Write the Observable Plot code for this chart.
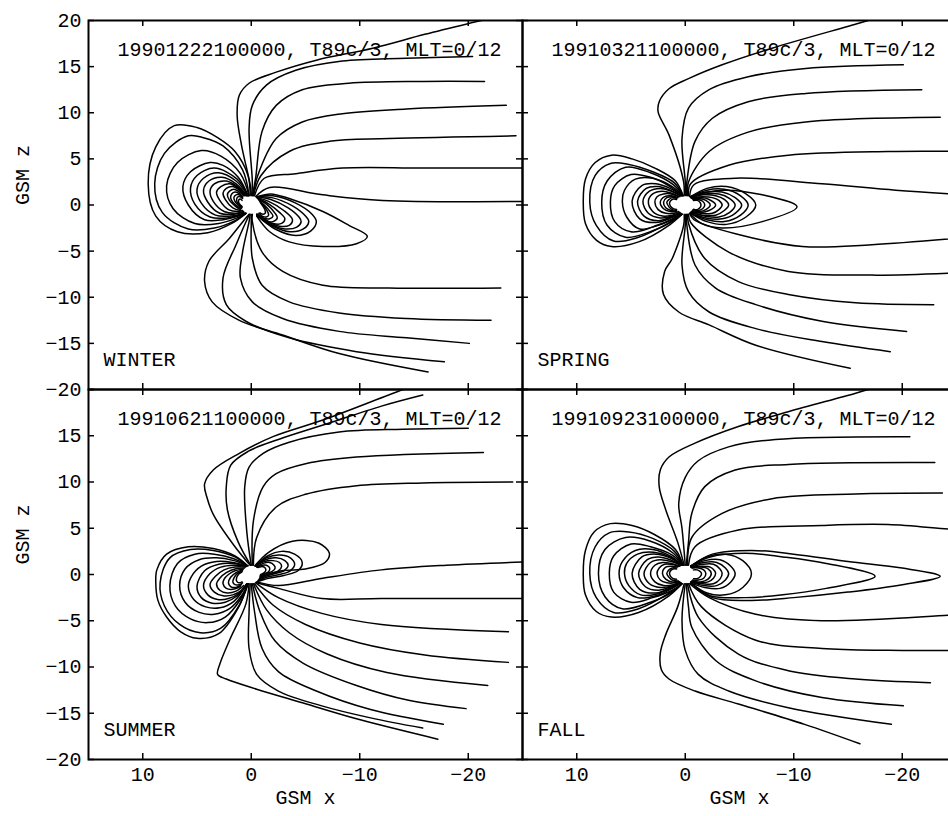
<!DOCTYPE html>
<html><head><meta charset="utf-8">
<script src="https://cdn.jsdelivr.net/npm/d3@7"></script>
<script src="https://cdn.jsdelivr.net/npm/@observablehq/plot@0.6"></script>
<style>
html,body{margin:0;padding:0;background:#fff;overflow:hidden;}
#wrap{position:relative;width:958px;height:816px;overflow:hidden;}
</style></head><body><div id="wrap"></div>
<script>
// ---------- axis / text data ----------
const xTicks = [10, 0, -10, -20];
const yTicks = [20, 15, 10, 5, 0, -5, -10, -15, -20];
const titles = ["19901222100000, T89c/3, MLT=0/12", "19910321100000, T89c/3, MLT=0/12",
                "19910621100000, T89c/3, MLT=0/12", "19910923100000, T89c/3, MLT=0/12"];
const seasons = ["WINTER", "SPRING", "SUMMER", "FALL"];

// ---------- field lines, GSM [x, z] in Earth radii ----------
// WINTER
const winterDay = [
 [[0.1,1.0],[0.3,3.2],[1.5,5.8],[3.1,7.3],[5.0,8.4],[7.1,8.6],[8.8,6.3],[9.5,2.3],[8.8,-1.2],[6.8,-2.9],[4.0,-3.0],[1.8,-2.0],[0.5,-0.9]],
 [[0.2,1.0],[0.8,3.8],[2.6,6.4],[4.4,7.3],[5.8,7.5],[8.0,5.6],[8.9,2.3],[8.2,-0.8],[5.8,-2.6],[3.4,-2.5],[1.5,-1.7],[0.5,-0.9]],
 [[0.2,1.0],[1.0,3.4],[2.8,5.3],[4.6,5.9],[6.8,4.6],[7.8,2.1],[7.2,-0.4],[5.2,-2.0],[3.0,-2.0],[1.3,-1.4],[0.5,-0.9]],
 [[0.3,1.0],[1.2,3.0],[2.6,4.3],[3.8,4.6],[5.6,3.6],[6.3,2.0],[5.8,0.0],[4.3,-1.6],[2.6,-1.6],[1.2,-1.2],[0.5,-0.9]],
 [[0.3,1.0],[1.3,2.8],[3.4,4.0],[5.0,3.2],[5.6,1.8],[5.2,0.1],[3.8,-1.3],[2.2,-1.4],[0.6,-0.9]],
 [[0.3,1.0],[1.4,2.6],[3.0,3.5],[4.4,2.9],[5.0,1.7],[4.6,0.2],[3.3,-1.1],[1.9,-1.2],[0.6,-0.9]],
 [[0.4,1.0],[1.4,2.3],[2.7,3.0],[3.9,2.6],[4.4,1.6],[4.0,0.3],[2.9,-0.9],[1.6,-1.0],[0.7,-0.8]],
 [[0.4,1.0],[1.4,2.1],[2.3,2.6],[3.4,2.3],[3.8,1.5],[3.5,0.4],[2.5,-0.7],[1.4,-0.9],[0.7,-0.7]],
 [[0.5,1.0],[1.3,1.9],[2.0,2.3],[2.8,2.0],[3.2,1.4],[2.9,0.5],[2.1,-0.5],[1.2,-0.7],[0.8,-0.6]],
 [[0.6,1.0],[1.2,1.7],[1.7,2.0],[2.3,1.8],[2.6,1.3],[2.4,0.6],[1.7,-0.3],[1.0,-0.6]],
 [[0.7,1.0],[1.2,1.5],[1.6,1.7],[2.0,1.5],[2.2,1.1],[2.0,0.5],[1.5,-0.1],[1.0,-0.5]],
 [[0.8,0.9],[1.2,1.3],[1.5,1.4],[1.8,1.2],[1.9,0.8],[1.7,0.3],[1.2,-0.2],[0.9,-0.4]],
 [[0.8,0.8],[1.1,1.1],[1.4,1.1],[1.6,0.8],[1.5,0.4],[1.2,0.0],[0.9,-0.3]],
 [[0.8,0.7],[1.0,0.9],[1.2,0.9],[1.35,0.6],[1.25,0.2],[1.0,-0.1],[0.85,-0.25]],
 [[0.85,0.5],[1.0,0.65],[1.15,0.55],[1.15,0.25],[1.0,0.0],[0.85,-0.15]]
];
const winterNight = [
 [[-0.6,0.9],[-1.8,1.2],[-3.5,0.7],[-6.6,-0.7],[-9.0,-2.2],[-10.7,-3.4],[-9.7,-4.2],[-6.6,-4.5],[-3.5,-4.0],[-1.7,-2.9],[-0.5,-1.2]],
 [[-0.5,0.9],[-2.0,1.0],[-4.1,0.2],[-5.6,-1.0],[-6.0,-1.8],[-5.5,-2.8],[-4.1,-3.3],[-2.2,-2.6],[-0.5,-1.1]],
 [[-0.5,0.9],[-1.9,0.8],[-3.8,-0.1],[-5.0,-1.2],[-5.3,-1.8],[-4.8,-2.6],[-3.6,-2.9],[-2.0,-2.3],[-0.5,-1.1]],
 [[-0.5,0.9],[-1.8,0.6],[-3.4,-0.3],[-4.4,-1.3],[-4.6,-1.8],[-4.2,-2.4],[-3.1,-2.6],[-1.8,-2.1],[-0.5,-1.1]],
 [[-0.5,0.8],[-1.6,0.4],[-3.0,-0.6],[-3.8,-1.6],[-3.5,-2.2],[-2.6,-2.3],[-1.5,-1.8],[-0.5,-1.0]],
 [[-0.5,0.8],[-1.5,0.2],[-2.6,-0.8],[-3.1,-1.5],[-2.8,-2.0],[-2.0,-2.0],[-1.2,-1.5],[-0.5,-1.0]],
 [[-0.5,0.7],[-1.4,0.1],[-2.2,-0.9],[-2.4,-1.4],[-2.0,-1.8],[-1.3,-1.7],[-0.6,-1.0]],
 [[-0.6,0.6],[-1.2,0.0],[-1.8,-0.8],[-2.0,-1.2],[-1.7,-1.5],[-1.1,-1.4],[-0.6,-1.0]],
 [[-0.7,0.5],[-1.1,0.0],[-1.5,-0.7],[-1.6,-1.1],[-1.4,-1.3],[-1.0,-1.2],[-0.7,-0.9]],
 [[-0.75,0.4],[-1.0,0.0],[-1.25,-0.5],[-1.3,-0.85],[-1.1,-1.0],[-0.8,-0.85]]
];
const winterNorth = [
 [[0.0,1.0],[0.1,2.2],[0.9,6.5],[1.3,9.7],[1.1,11.9],[0.2,13.2],[-2.3,14.4],[-6.0,15.7],[-11.2,17.0],[-16.0,18.5],[-20.5,19.8],[-23.0,20.5]],
 [[-0.05,1.0],[-0.1,2.5],[0.2,8.3],[-0.1,10.8],[-1.4,13.0],[-4.1,14.6],[-8.4,15.6],[-14.3,15.9],[-20.4,16.1]],
 [[-0.1,1.0],[-0.4,2.9],[-1.0,8.0],[-2.3,10.8],[-4.7,12.5],[-9.0,13.2],[-15.8,13.4],[-21.5,13.4]],
 [[-0.15,1.0],[-0.6,3.2],[-2.3,7.2],[-4.7,9.0],[-8.4,9.9],[-14.3,10.4],[-23.5,10.8]],
 [[-0.2,1.0],[-0.9,3.2],[-3.5,5.8],[-7.2,6.9],[-12.7,7.2],[-24.4,7.5]],
 [[-0.3,1.0],[-1.2,2.9],[-4.1,3.4],[-8.4,4.0],[-15.8,4.0],[-26.0,4.0]],
 [[-0.4,0.9],[-1.7,1.9],[-6.6,1.1],[-12.1,0.5],[-26.0,0.4]]
];
const winterSouth = [
 [[0.2,-1.0],[0.5,-1.4],[2.0,-3.6],[3.9,-6.1],[4.3,-8.3],[3.6,-10.5],[1.1,-12.5],[-2.9,-14.1],[-8.1,-16.1],[-16.3,-18.1]],
 [[0.15,-1.0],[0.4,-1.6],[1.4,-4.3],[2.6,-7.9],[2.3,-10.8],[0.5,-12.6],[-3.5,-14.4],[-9.7,-15.9],[-17.8,-17.0]],
 [[0.1,-1.0],[0.2,-1.8],[0.8,-5.1],[1.0,-7.9],[-0.1,-10.5],[-2.9,-12.3],[-8.1,-13.7],[-14.3,-14.4],[-20.1,-15.0]],
 [[0.0,-1.0],[0.0,-1.8],[-0.1,-5.8],[-1.0,-8.7],[-3.5,-10.5],[-8.1,-11.7],[-14.3,-12.3],[-22.1,-12.5]],
 [[-0.1,-1.0],[-0.1,-1.8],[-1.0,-5.1],[-2.9,-7.2],[-6.6,-8.7],[-12.7,-9.0],[-23.0,-9.0]]
];

// SPRING
const springDay = [
 [[0.2,1.0],[0.9,2.6],[2.8,4.0],[4.9,5.0],[6.8,5.4],[8.3,4.6],[9.2,2.8],[9.4,0.4],[9.2,-2.0],[8.2,-3.8],[6.8,-4.5],[4.3,-4.0],[1.5,-2.2],[0.3,-1.0]],
 [[0.2,1.0],[1.0,2.4],[3.0,3.6],[5.2,4.4],[6.9,4.5],[8.3,3.2],[8.8,0.3],[8.2,-2.2],[6.6,-3.9],[4.3,-3.5],[1.6,-2.0],[0.3,-1.0]],
 [[0.2,1.0],[1.1,2.2],[3.2,3.5],[5.5,4.1],[7.2,2.6],[7.7,0.3],[7.2,-2.2],[5.5,-3.5],[3.0,-2.8],[1.2,-1.8],[0.3,-1.0]],
 [[0.2,1.0],[1.2,2.0],[3.2,3.0],[5.0,3.3],[6.5,2.1],[6.9,0.3],[6.5,-1.8],[5.0,-2.9],[3.0,-2.4],[1.2,-1.6],[0.3,-1.0]],
 [[0.3,1.0],[1.4,2.0],[3.0,2.9],[4.6,2.8],[5.6,1.6],[5.8,0.4],[5.4,-1.3],[4.2,-2.6],[2.6,-2.2],[1.2,-1.5],[0.4,-0.9]],
 [[0.3,1.0],[1.4,1.8],[2.7,2.3],[4.0,2.1],[4.9,0.4],[4.2,-1.5],[2.7,-1.9],[1.3,-1.4],[0.4,-0.9]],
 [[0.4,1.0],[1.4,1.6],[2.5,2.0],[3.6,1.8],[4.4,0.4],[3.8,-1.2],[2.5,-1.7],[1.3,-1.3],[0.5,-0.9]],
 [[0.4,1.0],[1.3,1.5],[2.3,1.8],[3.3,1.5],[3.9,0.4],[3.4,-0.9],[2.3,-1.4],[1.2,-1.2],[0.5,-0.8]],
 [[0.5,0.9],[1.3,1.3],[2.1,1.5],[3.0,1.2],[3.4,0.4],[3.0,-0.7],[2.1,-1.2],[1.2,-1.1],[0.5,-0.8]],
 [[0.6,0.9],[1.3,1.2],[2.0,1.2],[2.6,0.9],[2.8,0.3],[2.5,-0.5],[1.8,-0.9],[1.0,-0.9],[0.6,-0.7]],
 [[0.7,0.8],[1.3,1.0],[1.9,0.9],[2.3,0.3],[2.0,-0.4],[1.4,-0.7],[0.8,-0.7]],
 [[0.7,0.8],[1.2,0.9],[1.7,0.8],[2.0,0.3],[1.8,-0.3],[1.3,-0.6],[0.8,-0.7]],
 [[0.8,0.7],[1.2,0.8],[1.5,0.6],[1.7,0.3],[1.5,-0.2],[1.2,-0.5],[0.8,-0.6]],
 [[0.8,0.6],[1.1,0.65],[1.35,0.45],[1.45,0.2],[1.35,-0.15],[1.1,-0.4],[0.8,-0.5]]
];
const springNight = [
 [[-0.5,0.9],[-3.4,1.6],[-7.1,1.1],[-10.3,-0.2],[-7.1,-1.8],[-3.4,-2.5],[-1.5,-2.0],[-0.4,-0.9]],
 [[-0.5,0.9],[-2.0,1.8],[-3.8,2.0],[-5.6,1.2],[-6.5,0.0],[-5.6,-1.3],[-3.8,-2.1],[-2.0,-1.8],[-0.5,-0.9]],
 [[-0.5,0.9],[-2.0,1.6],[-3.6,1.7],[-5.1,1.0],[-5.8,0.0],[-5.1,-1.1],[-3.6,-1.8],[-2.0,-1.6],[-0.5,-0.9]],
 [[-0.5,0.9],[-1.9,1.4],[-3.4,1.4],[-4.6,0.8],[-5.2,0.0],[-4.6,-0.9],[-3.4,-1.5],[-1.9,-1.4],[-0.5,-0.9]],
 [[-0.5,0.9],[-1.8,1.2],[-3.1,1.2],[-4.1,0.7],[-4.6,0.0],[-4.1,-0.8],[-3.1,-1.3],[-1.8,-1.2],[-0.5,-0.8]],
 [[-0.5,0.8],[-1.7,1.1],[-2.8,1.0],[-3.6,0.6],[-4.0,0.0],[-3.6,-0.6],[-2.8,-1.1],[-1.7,-1.1],[-0.5,-0.8]],
 [[-0.5,0.8],[-1.6,0.9],[-2.5,0.8],[-3.1,0.5],[-3.4,0.0],[-3.1,-0.5],[-2.5,-0.9],[-1.6,-0.9],[-0.5,-0.7]],
 [[-0.5,0.7],[-1.4,0.8],[-2.2,0.6],[-2.8,0.0],[-2.2,-0.6],[-1.4,-0.8],[-0.5,-0.7]],
 [[-0.6,0.7],[-1.3,0.7],[-1.9,0.5],[-2.3,0.0],[-1.9,-0.5],[-1.3,-0.7],[-0.6,-0.6]],
 [[-0.7,0.6],[-1.2,0.6],[-1.6,0.4],[-1.8,0.0],[-1.6,-0.4],[-1.2,-0.6],[-0.7,-0.5]],
 [[-0.75,0.5],[-1.1,0.5],[-1.35,0.3],[-1.45,0.0],[-1.35,-0.3],[-1.1,-0.5],[-0.75,-0.45]]
];
const springNorth = [
 [[0.1,1.0],[0.15,2.5],[1.5,7.6],[2.5,10.1],[2.4,11.2],[1.5,12.6],[-0.3,13.7],[-3.4,15.2],[-8.0,17.0],[-16.0,19.7],[-18.0,20.4]],
 [[0.0,1.0],[0.0,2.5],[0.3,7.2],[-0.3,10.5],[-2.2,12.5],[-5.8,13.9],[-11.1,14.8],[-20.1,15.2]],
 [[-0.1,1.0],[-0.15,2.5],[-0.9,6.9],[-2.5,9.4],[-5.8,11.2],[-11.1,12.1],[-21.8,12.5]],
 [[-0.2,1.0],[-0.3,2.5],[-2.2,5.8],[-5.8,7.9],[-11.1,9.0],[-23.5,9.5]],
 [[-0.3,1.0],[-0.5,2.3],[-4.0,4.3],[-9.5,5.4],[-18.7,5.8],[-26.0,5.8]],
 [[-0.4,0.9],[-0.8,2.2],[-4.6,2.9],[-12.6,2.3],[-19.4,1.6],[-26.0,1.1]]
];
const springSouth = [
 [[0.1,-1.0],[0.15,-2.2],[1.2,-5.8],[1.9,-7.2],[2.0,-9.7],[0.6,-11.6],[-2.2,-13.0],[-6.5,-15.2],[-15.2,-17.7]],
 [[0.0,-1.0],[0.0,-2.2],[0.3,-6.5],[-0.3,-9.4],[-2.2,-11.6],[-6.5,-13.4],[-12.6,-14.8],[-18.9,-15.9]],
 [[-0.1,-1.0],[-0.15,-2.2],[-0.9,-6.5],[-2.8,-9.0],[-6.5,-10.8],[-12.6,-12.6],[-20.4,-13.7]],
 [[-0.2,-1.0],[-0.3,-2.0],[-1.8,-5.8],[-4.9,-8.3],[-9.5,-9.7],[-15.7,-10.6],[-22.9,-10.8]],
 [[-0.3,-1.0],[-0.5,-1.9],[-4.0,-5.1],[-9.5,-7.2],[-17.2,-7.6],[-26.0,-7.3]],
 [[-0.4,-0.9],[-0.8,-1.6],[-4.9,-3.2],[-10.8,-4.5],[-17.2,-4.3],[-26.0,-3.5]]
];

// SUMMER
const summerDay = [
 [[0.3,0.9],[1.5,2.0],[3.5,2.8],[5.8,3.0],[7.8,2.2],[8.7,0.5],[8.8,-0.8],[8.6,-2.8],[7.8,-4.6],[6.5,-6.2],[5.0,-6.9],[3.0,-6.4],[1.2,-3.6],[0.3,-1.0]],
 [[0.3,0.9],[1.5,1.9],[3.5,2.6],[5.6,2.7],[7.5,1.8],[8.4,-0.9],[8.0,-3.4],[6.6,-5.4],[4.7,-6.3],[2.8,-5.8],[1.1,-3.3],[0.3,-1.0]],
 [[0.3,0.9],[1.6,1.7],[3.4,2.2],[5.2,2.2],[6.8,1.2],[7.5,-1.2],[7.0,-3.4],[5.6,-4.8],[4.0,-5.2],[2.4,-4.6],[1.0,-2.7],[0.3,-1.0]],
 [[0.3,0.9],[1.6,1.5],[3.2,1.8],[4.8,1.6],[6.1,0.6],[6.6,-1.2],[6.1,-3.0],[4.8,-4.1],[3.4,-4.3],[2.0,-3.7],[0.9,-2.3],[0.3,-1.0]],
 [[0.4,0.9],[1.7,1.3],[3.2,1.4],[4.6,0.9],[5.5,-0.2],[5.8,-1.3],[5.3,-2.7],[4.2,-3.5],[2.9,-3.6],[1.6,-2.9],[0.4,-1.0]],
 [[0.4,0.9],[1.7,1.2],[3.0,1.1],[4.3,0.4],[5.0,-1.3],[4.6,-2.5],[3.6,-3.1],[2.4,-3.0],[1.3,-2.3],[0.4,-1.0]],
 [[0.4,0.9],[1.6,1.0],[2.8,0.8],[3.8,0.1],[4.4,-1.2],[4.0,-2.2],[3.1,-2.7],[2.1,-2.6],[1.1,-2.0],[0.4,-1.0]],
 [[0.5,0.8],[1.5,0.8],[2.5,0.5],[3.3,-0.2],[3.8,-1.1],[3.4,-1.9],[2.6,-2.3],[1.7,-2.2],[0.9,-1.7],[0.4,-1.0]],
 [[0.6,0.7],[1.5,0.6],[2.3,0.2],[2.9,-0.4],[3.2,-1.0],[2.9,-1.7],[2.2,-2.0],[1.4,-1.8],[0.7,-1.2]],
 [[0.7,0.6],[1.5,0.4],[2.1,0.0],[2.5,-0.5],[2.6,-1.0],[2.3,-1.5],[1.7,-1.6],[1.0,-1.3]],
 [[0.8,0.5],[1.4,0.2],[1.9,-0.3],[2.1,-0.9],[1.9,-1.3],[1.4,-1.4],[0.9,-1.1]],
 [[0.8,0.4],[1.3,0.1],[1.6,-0.4],[1.7,-0.8],[1.5,-1.1],[1.1,-1.1],[0.8,-0.9]],
 [[0.85,0.3],[1.15,0.05],[1.35,-0.35],[1.35,-0.7],[1.15,-0.9],[0.85,-0.8]]
];
const summerNight = [
 [[-0.3,0.9],[-1.6,2.4],[-3.8,3.6],[-6.2,3.4],[-7.2,2.3],[-6.8,1.3],[-5.0,0.6],[-2.8,0.4],[-0.9,-0.3],[-0.4,-0.8]],
 [[-0.4,0.9],[-1.5,2.0],[-2.8,2.5],[-4.0,2.2],[-4.7,1.3],[-4.3,0.4],[-3.0,-0.1],[-1.6,-0.4],[-0.5,-0.8]],
 [[-0.4,0.9],[-1.4,1.8],[-2.6,2.1],[-3.6,1.8],[-4.0,1.1],[-3.6,0.4],[-2.6,0.0],[-1.4,-0.3],[-0.5,-0.8]],
 [[-0.4,0.9],[-1.3,1.6],[-2.3,1.8],[-3.1,1.5],[-3.4,1.0],[-3.0,0.4],[-2.2,0.1],[-1.3,-0.2],[-0.5,-0.8]],
 [[-0.4,0.9],[-1.2,1.4],[-2.0,1.5],[-2.6,1.3],[-2.8,0.9],[-2.5,0.4],[-1.8,0.1],[-1.1,-0.2],[-0.5,-0.7]],
 [[-0.5,0.8],[-1.1,1.2],[-1.7,1.3],[-2.1,1.0],[-2.2,0.7],[-1.9,0.3],[-1.3,0.1],[-0.7,-0.4]],
 [[-0.5,0.8],[-1.0,1.0],[-1.4,1.0],[-1.7,0.7],[-1.6,0.3],[-1.1,0.0],[-0.6,-0.3]],
 [[-0.6,0.75],[-0.9,0.85],[-1.2,0.8],[-1.35,0.5],[-1.2,0.2],[-0.9,0.0],[-0.6,-0.2]]
];
const summerNorth = [
 [[0.1,1.0],[1.5,3.0],[3.5,6.5],[4.1,8.4],[4.3,9.8],[3.5,11.3],[1.1,13.1],[-2.0,14.9],[-6.6,16.7],[-14.0,20.0],[-16.0,20.8]],
 [[0.05,1.0],[1.2,3.5],[2.2,7.0],[2.3,9.5],[1.9,11.8],[0.3,13.3],[-2.5,14.6],[-7.0,16.3],[-12.0,18.2],[-15.8,19.4]],
 [[0.0,1.0],[0.4,4.5],[0.6,9.5],[0.2,11.6],[-1.1,13.1],[-3.5,14.3],[-8.1,15.4],[-14.0,15.7],[-20.0,15.8]],
 [[-0.1,1.0],[-0.2,5.8],[-1.1,9.5],[-2.3,10.9],[-5.1,12.0],[-9.7,12.7],[-21.4,13.2]],
 [[-0.2,1.0],[-0.5,4.0],[-2.3,7.3],[-5.1,8.7],[-9.7,9.6],[-15.8,9.9],[-24.1,10.0]]
];
const summerSouth = [
 [[0.2,-1.0],[0.5,-3.2],[2.0,-7.1],[2.9,-9.7],[3.1,-10.8],[2.3,-11.3],[-0.5,-12.4],[-4.8,-13.9],[-9.7,-15.6],[-17.2,-17.8]],
 [[0.1,-1.0],[0.2,-4.0],[0.2,-8.0],[-0.5,-10.8],[-2.5,-12.6],[-6.5,-14.2],[-11.0,-15.5],[-15.8,-16.6]],
 [[0.0,-1.0],[-0.3,-4.0],[-1.0,-8.0],[-2.5,-10.5],[-6.0,-12.6],[-11.0,-14.6],[-17.7,-16.2]],
 [[-0.1,-1.0],[-0.8,-4.0],[-2.2,-7.2],[-4.8,-9.6],[-9.7,-12.0],[-14.5,-13.6],[-19.8,-14.5]],
 [[-0.2,-1.0],[-1.4,-3.8],[-3.5,-6.3],[-7.0,-8.6],[-12.5,-10.6],[-21.8,-12.0]],
 [[-0.3,-1.0],[-2.0,-3.3],[-5.0,-5.4],[-10.0,-7.4],[-16.0,-8.7],[-23.7,-9.5]],
 [[-0.4,-0.9],[-2.5,-2.5],[-6.5,-4.2],[-12.0,-5.4],[-23.7,-6.2]],
 [[-0.5,-0.9],[-2.5,-1.5],[-6.5,-2.6],[-12.0,-2.6],[-26.0,-2.6]],
 [[-0.5,-0.8],[-2.5,-1.2],[-6.6,-0.4],[-12.0,0.5],[-18.0,1.0],[-26.0,1.4]]
];

// FALL
const fallDay = [
 [[0.2,1.0],[0.9,2.7],[2.8,4.3],[4.9,5.3],[6.9,5.5],[8.4,4.6],[9.2,2.6],[9.4,0.1],[9.2,-2.2],[8.2,-4.0],[6.8,-4.6],[4.3,-4.1],[1.5,-2.3],[0.3,-1.0]],
 [[0.2,1.0],[1.0,2.5],[3.0,3.9],[5.2,4.6],[7.0,4.5],[8.3,3.0],[8.8,0.1],[8.2,-2.5],[6.6,-4.1],[4.3,-3.7],[1.6,-2.1],[0.3,-1.0]],
 [[0.2,1.0],[1.1,2.3],[3.2,3.6],[5.5,4.0],[7.4,2.7],[8.0,0.1],[7.4,-2.4],[5.8,-3.7],[3.2,-3.0],[1.2,-1.9],[0.3,-1.0]],
 [[0.2,1.0],[1.2,2.1],[3.2,3.0],[5.0,3.3],[6.6,2.0],[7.0,0.1],[6.6,-1.9],[5.0,-3.0],[3.0,-2.5],[1.2,-1.7],[0.3,-1.0]],
 [[0.3,1.0],[1.4,2.0],[3.0,2.7],[4.6,2.6],[5.8,1.4],[6.1,0.1],[5.7,-1.4],[4.4,-2.5],[2.7,-2.3],[1.2,-1.5],[0.4,-0.9]],
 [[0.3,1.0],[1.4,1.9],[2.9,2.4],[4.4,2.2],[5.4,1.2],[5.6,0.1],[5.2,-1.2],[4.1,-2.2],[2.6,-2.1],[1.2,-1.4],[0.4,-0.9]],
 [[0.3,1.0],[1.4,1.8],[2.7,2.2],[4.0,1.9],[4.9,0.1],[4.2,-1.6],[2.7,-2.0],[1.3,-1.4],[0.4,-0.9]],
 [[0.4,1.0],[1.4,1.6],[2.5,1.9],[3.5,1.6],[4.3,0.1],[3.7,-1.3],[2.5,-1.7],[1.3,-1.3],[0.5,-0.9]],
 [[0.4,1.0],[1.3,1.4],[2.3,1.6],[3.2,1.3],[3.8,0.1],[3.3,-1.0],[2.3,-1.4],[1.2,-1.2],[0.5,-0.8]],
 [[0.5,0.9],[1.3,1.2],[2.1,1.3],[2.8,1.0],[3.2,0.1],[2.8,-0.8],[2.0,-1.2],[1.1,-1.1],[0.5,-0.8]],
 [[0.6,0.9],[1.3,1.1],[1.9,1.1],[2.4,0.7],[2.6,0.1],[2.3,-0.6],[1.7,-0.9],[1.0,-0.9],[0.6,-0.7]],
 [[0.7,0.8],[1.2,0.9],[1.8,0.8],[2.1,0.1],[1.8,-0.5],[1.2,-0.8],[0.7,-0.7]],
 [[0.8,0.7],[1.2,0.7],[1.5,0.5],[1.7,0.1],[1.5,-0.3],[1.2,-0.6],[0.8,-0.6]],
 [[0.8,0.6],[1.1,0.6],[1.35,0.4],[1.45,0.1],[1.35,-0.2],[1.1,-0.45],[0.8,-0.5]]
];
const fallNight = [
 [[-0.5,0.9],[-2.5,2.2],[-6.1,2.6],[-10.0,2.2],[-15.0,1.4],[-20.0,0.7],[-23.5,-0.2],[-20.0,-1.1],[-15.0,-1.9],[-10.0,-2.5],[-6.1,-2.8],[-2.5,-2.5],[-0.5,-0.9]],
 [[-0.5,0.9],[-2.3,1.9],[-5.5,2.3],[-9.0,1.9],[-13.0,1.2],[-17.5,-0.2],[-13.0,-1.5],[-9.0,-2.2],[-5.5,-2.5],[-2.3,-2.3],[-0.5,-0.9]],
 [[-0.5,0.9],[-2.0,1.9],[-3.7,2.2],[-5.3,1.5],[-6.1,0.1],[-5.3,-1.4],[-3.7,-2.2],[-2.0,-2.0],[-0.5,-0.9]],
 [[-0.5,0.9],[-1.8,1.5],[-3.2,1.6],[-4.2,0.9],[-4.6,0.1],[-4.2,-0.8],[-3.2,-1.5],[-1.8,-1.4],[-0.5,-0.9]],
 [[-0.5,0.9],[-1.7,1.3],[-2.9,1.3],[-3.7,0.7],[-4.0,0.1],[-3.7,-0.6],[-2.9,-1.2],[-1.7,-1.2],[-0.5,-0.8]],
 [[-0.5,0.8],[-1.6,1.1],[-2.6,1.1],[-3.2,0.6],[-3.4,0.1],[-3.2,-0.5],[-2.6,-1.0],[-1.6,-1.0],[-0.5,-0.8]],
 [[-0.5,0.8],[-1.5,0.9],[-2.3,0.8],[-2.7,0.4],[-2.8,0.1],[-2.6,-0.4],[-2.1,-0.8],[-1.4,-0.9],[-0.5,-0.7]],
 [[-0.5,0.7],[-1.4,0.8],[-2.1,0.6],[-2.4,0.1],[-2.1,-0.5],[-1.4,-0.8],[-0.5,-0.7]],
 [[-0.6,0.7],[-1.2,0.7],[-1.7,0.5],[-1.9,0.1],[-1.7,-0.4],[-1.2,-0.6],[-0.6,-0.6]],
 [[-0.75,0.5],[-1.1,0.5],[-1.4,0.3],[-1.5,0.1],[-1.4,-0.2],[-1.1,-0.45],[-0.75,-0.45]]
];
const fallNorth = [
 [[0.1,1.0],[0.7,3.5],[1.8,7.0],[2.4,9.5],[2.3,11.3],[1.5,12.7],[-0.9,14.2],[-4.9,16.0],[-9.5,17.6],[-15.7,19.6],[-18.0,20.4]],
 [[0.0,1.0],[0.3,5.0],[0.6,7.7],[0.0,10.5],[-1.2,12.3],[-4.0,13.8],[-8.3,14.6],[-20.7,14.9]],
 [[-0.1,1.0],[-0.3,3.5],[-0.6,6.6],[-1.8,9.5],[-4.6,11.3],[-9.5,11.9],[-23.0,12.1]],
 [[-0.2,1.0],[-0.6,4.0],[-3.4,6.6],[-8.0,8.2],[-15.7,8.7],[-23.7,8.8]],
 [[-0.3,1.0],[-0.9,3.0],[-4.9,4.8],[-12.6,5.3],[-18.7,5.4],[-24.3,4.9],[-26.0,4.8]]
];
const fallSouth = [
 [[0.1,-1.0],[0.7,-3.5],[1.8,-6.5],[2.3,-8.5],[2.2,-10.3],[1.5,-11.3],[-0.9,-12.6],[-4.9,-14.0],[-11.0,-16.2],[-16.1,-18.3]],
 [[0.0,-1.0],[0.3,-5.0],[0.0,-8.2],[-1.2,-10.8],[-4.0,-12.6],[-9.5,-14.4],[-19.0,-16.2]],
 [[-0.1,-1.0],[-0.3,-3.5],[-0.6,-5.7],[-2.8,-9.3],[-6.5,-11.5],[-12.6,-13.3],[-20.1,-14.2]],
 [[-0.2,-1.0],[-1.2,-4.6],[-4.9,-8.6],[-9.5,-10.4],[-15.7,-11.3],[-22.6,-11.7]],
 [[-0.3,-1.0],[-1.5,-3.5],[-6.5,-7.1],[-12.6,-8.0],[-18.7,-8.2],[-26.0,-8.2]],
 [[-0.4,-1.0],[-2.2,-2.5],[-6.5,-4.3],[-12.6,-5.0],[-24.3,-4.4],[-26.0,-4.3]]
];

// ---------- drawing ----------
const FONT = "'Liberation Mono', 'DejaVu Sans Mono', monospace";
const fmt = d => d < 0 ? "\u2212" + Math.abs(d) : String(d);
const wrap = document.getElementById("wrap");

function panel({groups, title, season, left, top, width, height, mL, mT, mR, mB, showX, showY, zDy, skipTopLabel}) {
  const iw = width - mL - mR, ih = height - mT - mB;
  const rows = groups.flat().flatMap((pts, i) => pts.map(([x, z]) => ({id: i, x, z})));
  const txt = {fontSize: 20, fontFamily: FONT, fill: "black"};
  const marks = [
    Plot.text([title], {...txt, text: d => d, frameAnchor: "top", dx: 4, dy: 21.5}),
    Plot.text([season], {...txt, text: d => d, frameAnchor: "bottom-left", textAnchor: "start", dx: 15, dy: -24}),
    Plot.line(rows, {x: "x", y: "z", z: "id", curve: "catmull-rom", stroke: "black", strokeWidth: 1.5, clip: true}),
    Plot.dot([{x: 0, z: 0}], {x: "x", y: "z", r: 8.5, fill: "white", stroke: "none"}),
    Plot.tickX(xTicks, {x: d => d, insetTop: ih - 6, stroke: "black", strokeWidth: 1.5}),
    Plot.tickX(xTicks, {x: d => d, insetBottom: ih - 6, stroke: "black", strokeWidth: 1.5}),
    Plot.tickY(yTicks, {y: d => d, insetRight: iw - 6, stroke: "black", strokeWidth: 1.5}),
    Plot.tickY(yTicks, {y: d => d, insetLeft: iw - 6, stroke: "black", strokeWidth: 1.5}),
    Plot.frame({stroke: "black", strokeWidth: 2})
  ];
  if (showY) {
    const labels = skipTopLabel ? yTicks.filter(d => d !== yTicks[0]) : yTicks;
    marks.push(Plot.text(labels, {...txt, y: d => d, text: fmt, frameAnchor: "left", textAnchor: "end", dx: -7}));
    marks.push(Plot.text(["GSM z"], {...txt, text: d => d, frameAnchor: "left", dx: -66, dy: zDy, rotate: -90}));
  }
  if (showX) {
    marks.push(Plot.text(xTicks, {...txt, x: d => d, text: fmt, frameAnchor: "bottom", dy: 21}));
    marks.push(Plot.text(["GSM x"], {...txt, text: d => d, frameAnchor: "bottom", dy: 44}));
  }
  const svg = Plot.plot({
    width, height, marginLeft: mL, marginTop: mT, marginRight: mR, marginBottom: mB,
    x: {domain: [15, -25], axis: null},
    y: {domain: [-20, 20], axis: null},
    style: `position:absolute;left:${left}px;top:${top}px;background:transparent;overflow:visible;max-width:none;font-family:${FONT};`,
    marks
  });
  wrap.appendChild(svg);
}

panel({groups: [winterDay, winterNight, winterNorth, winterSouth], title: titles[0], season: seasons[0],
  left: 0, top: 0, width: 522, height: 389, mL: 88, mT: 20, mR: 0, mB: 0, showX: false, showY: true, zDy: 0});
panel({groups: [springDay, springNight, springNorth, springSouth], title: titles[1], season: seasons[1],
  left: 522, top: 0, width: 436, height: 389, mL: 0, mT: 20, mR: 2, mB: 0, showX: false, showY: false, zDy: 0});
panel({groups: [summerDay, summerNight, summerNorth, summerSouth], title: titles[2], season: seasons[2],
  left: 0, top: 389, width: 522, height: 427, mL: 88, mT: 0, mR: 0, mB: 57, showX: true, showY: true, zDy: -10, skipTopLabel: true});
panel({groups: [fallDay, fallNight, fallNorth, fallSouth], title: titles[3], season: seasons[3],
  left: 522, top: 389, width: 436, height: 427, mL: 0, mT: 0, mR: 2, mB: 57, showX: true, showY: false, zDy: 0});
</script></body></html>
